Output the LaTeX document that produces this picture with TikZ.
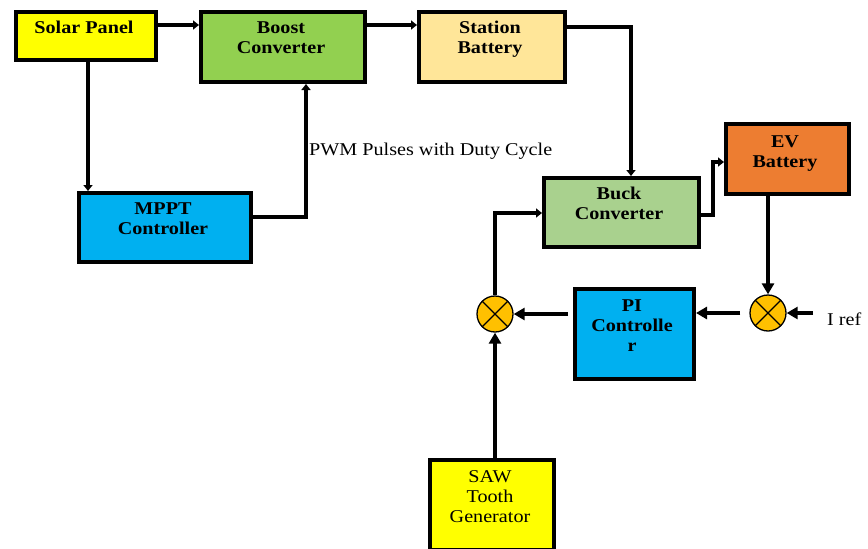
\documentclass[tikz,border=0pt]{standalone}
\usepackage{fontspec}
\setmainfont{Liberation Serif}[FakeStretch=1.12]
\usetikzlibrary{arrows.meta,calc}
\definecolor{panelyellow}{HTML}{FFFF00}
\definecolor{boostgreen}{HTML}{92D050}
\definecolor{stationtan}{HTML}{FFE699}
\definecolor{buckgreen}{HTML}{A9D18E}
\definecolor{evorange}{HTML}{ED7D31}
\definecolor{ctrlblue}{HTML}{00B0F0}
\definecolor{sumorange}{HTML}{FFC000}
\begin{document}
\begin{tikzpicture}[x=1pt,y=-1pt,
  blk/.style={draw=black, line width=4pt, inner sep=0pt, anchor=north west},
  lbl/.style={font=\fontsize{18}{20}\selectfont\bfseries, align=center, anchor=base, inner sep=0pt},
  txt/.style={font=\fontsize{18}{20}\selectfont, align=center, anchor=base, inner sep=0pt},
  sumnode/.style={circle, draw=black, line width=1.3pt, fill=sumorange, minimum size=36pt, inner sep=0pt,
    path picture={\draw[line width=1.3pt] (path picture bounding box.north west) -- (path picture bounding box.south east)
      (path picture bounding box.north east) -- (path picture bounding box.south west);}},
  arr/.style={line width=3.5pt, line join=miter, -{Triangle[width=9pt,length=6pt]}},
  arrb/.style={line width=3.5pt, line join=miter, -{Triangle[width=12pt,length=11pt]}}
]
\useasboundingbox (0,0) rectangle (868,549);

% blocks
\node[blk, fill=panelyellow, minimum width=140pt, minimum height=48pt] (solar) at (14,10) {};
\node[blk, fill=boostgreen, minimum width=164pt, minimum height=70pt] (boost) at (199,10) {};
\node[blk, fill=stationtan, minimum width=146pt, minimum height=70pt] (station) at (417,10) {};
\node[blk, fill=buckgreen, minimum width=155pt, minimum height=69pt] (buck) at (542,176) {};
\node[blk, fill=evorange, minimum width=123pt, minimum height=70pt] (ev) at (724,122) {};
\node[blk, fill=ctrlblue, minimum width=172pt, minimum height=69pt] (mppt) at (77,191) {};
\node[blk, fill=ctrlblue, minimum width=119pt, minimum height=90pt] (pi) at (573,287) {};
\node[blk, fill=panelyellow, minimum width=124pt, minimum height=90pt] (saw) at (428,458) {};

% summing junctions
\node[sumnode] (lsum) at (495,314) {};
\node[sumnode] (rsum) at (768,313) {};

% block labels (anchored at the baseline of the last line)
\node[lbl] (solarT) at (84,33) {Solar Panel};
\node[lbl] (boostT) at (281,53) {Boost\\Converter};
\node[lbl] (stationT) at (490,53) {Station\\Battery};
\node[lbl] (buckT) at (619,219) {Buck\\Converter};
\node[lbl] (evT) at (785,167) {EV\\Battery};
\node[lbl] (mpptT) at (163,234) {MPPT\\Controller};
\node[lbl] (piT) at (632,351) {PI\\Controlle\\r};
\node[txt] (sawT) at (490,522) {SAW\\Tooth\\Generator};

% free labels
\node[txt, anchor=base west] (pwm) at (309,155) {PWM Pulses with Duty Cycle};
\node[txt, anchor=base west] (iref) at (827,325) {I ref};

% routing levels
\coordinate (h1) at (0,25);
\coordinate (h2) at (0,27);
\coordinate (v3) at (631,0);
\coordinate (h4) at (0,215);
\coordinate (v4) at (713,0);
\coordinate (h4b) at (0,162);
\coordinate (v11) at (88,0);
\coordinate (h12) at (0,217);
\coordinate (v12) at (306,0);
\coordinate (h10) at (0,213);
\coordinate (irefstart) at (813,313);

% power path
\draw[arr] (solar.east |- h1) -- (boost.west |- h1);
\draw[arr] (boost.east |- h1) -- (station.west |- h1);
\draw[arr] (station.east |- h2) -| (buck.north -| v3);
\draw[arr] (buck.east |- h4) -| (v4 |- h4b) -- (ev.west |- h4b);

% MPPT loop
\draw[arr] (solar.south -| v11) -- (mppt.north -| v11);
\draw[arr] (mppt.east |- h12) -| (boost.south -| v12);

% current control loop
\draw[arrb] (ev.south -| rsum) -- (rsum.north);
\draw[arrb] (irefstart) -- (rsum.east);
\draw[arrb, shorten <=9pt] (rsum.west) -- (rsum.west -| pi.east);
\draw[arrb, shorten <=5pt] (pi.west |- lsum) -- (lsum.east);
\draw[arrb] (saw.north -| lsum) -- (lsum.south);
\draw[arr] (lsum.north) -- (lsum.north |- h10) -- (buck.west |- h10);
\end{tikzpicture}
\end{document}
